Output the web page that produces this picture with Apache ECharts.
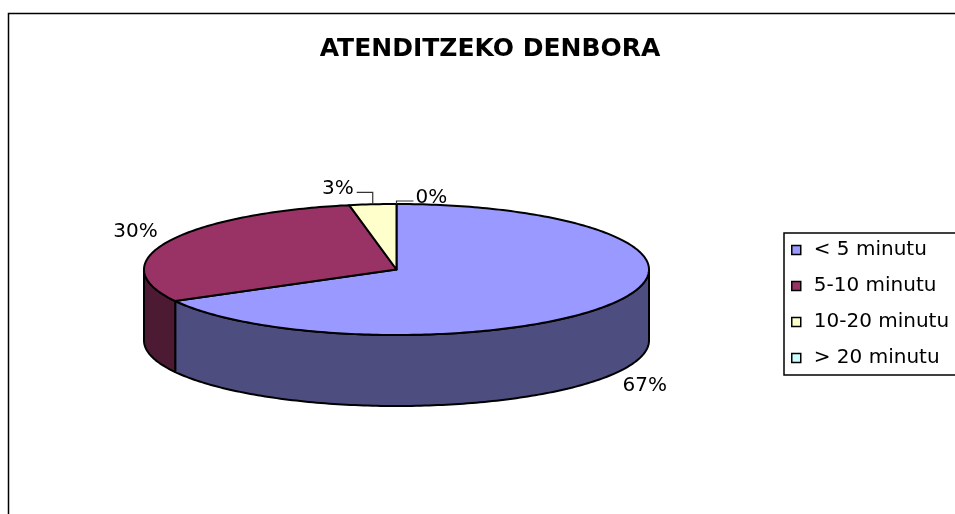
<!DOCTYPE html>
<html>
<head>
<meta charset="utf-8">
<title>ATENDITZEKO DENBORA</title>
<script src="https://cdn.jsdelivr.net/npm/echarts@6/dist/echarts.min.js"></script>
<style>
  html, body { margin: 0; padding: 0; background: #fff; }
  #main { width: 955px; height: 514px; }
</style>
</head>
<body>
<div id="main"></div>
<script>
// datuak
const categories = ['< 5 minutu', '5-10 minutu', '10-20 minutu', '> 20 minutu']
const values = [67, 30, 3, 0]

// koloreak: goiko aurpegia eta alboa
const topColors = ['#9999FF', '#993366', '#FFFFCC', '#CCFFFF']
const sideColors = ['#4D4D80', '#4D1A33', '#80806A', '#6A8080']

// 3D tarta geometria (pixeletan)
const pie = { cx: 396.5, cy: 269.5, rx: 252.5, ry: 65.5, depth: 71 }
// etiketa txikiak lerro gidariarekin: [dx, dy] ertzetik
const leaders = [null, null, [-16, -12], [17, -3]]

const total = values.reduce((a, b) => a + b, 0)

function pt (deg, dy) {
  const r = deg * Math.PI / 180
  return [pie.cx + pie.rx * Math.sin(r), pie.cy - pie.ry * Math.cos(r) + (dy || 0)]
}

function arc (a0, a1, dy) {
  const pts = []
  const n = Math.max(2, Math.ceil(a1 - a0))
  for (let i = 0; i <= n; i++) pts.push(pt(a0 + (a1 - a0) * i / n, dy))
  return pts
}

function startAngle (idx) {
  let s = 0
  for (let i = 0; i < idx; i++) s += values[i]
  return s / total * 360
}

function renderSlice (idx) {
  return function (params, api) {
    const start = startAngle(idx)
    const end = start + values[idx] / total * 360
    const children = []

    if (end > start) {
      // alboa (aurreko erdia bakarrik ikusten da)
      const s0 = Math.max(start, 90)
      const s1 = Math.min(end, 270)
      if (s1 > s0) {
        children.push({
          type: 'polygon',
          z2: 1,
          shape: { points: arc(s0, s1, 0).concat(arc(s0, s1, pie.depth).reverse()) },
          style: { fill: sideColors[idx], stroke: '#000', lineWidth: 2, lineJoin: 'round' }
        })
      }
      // goiko aurpegia
      children.push({
        type: 'polygon',
        z2: 5,
        shape: { points: [[pie.cx, pie.cy]].concat(arc(start, end, 0)) },
        style: { fill: topColors[idx], stroke: '#000', lineWidth: 2, lineJoin: 'round' }
      })
    }

    // ehunekoa
    const pct = Math.round(values[idx] / total * 100) + '%'
    const mid = (start + end) / 2
    const rad = mid * Math.PI / 180
    const font = { fontFamily: 'DejaVu Sans', fontSize: 20, fill: '#000' }
    if (!leaders[idx]) {
      const c = Math.cos(rad)
      children.push({
        type: 'text',
        z2: 10,
        style: Object.assign({
          text: pct,
          x: pie.cx + (pie.rx + 36) * Math.sin(rad),
          y: pie.cy - (pie.ry + 24) * c + (c < 0 ? pie.depth : 0),
          align: 'center',
          verticalAlign: 'middle'
        }, font)
      })
    } else {
      const [dx, dy] = leaders[idx]
      const e = pt(mid, 0)
      children.push({
        type: 'polyline',
        z2: 10,
        shape: { points: [e, [e[0], e[1] + dy], [e[0] + dx, e[1] + dy]] },
        style: { stroke: '#333', lineWidth: 1.2, fill: null }
      })
      children.push({
        type: 'text',
        z2: 10,
        style: Object.assign({
          text: pct,
          x: e[0] + dx + (dx < 0 ? -3 : 2),
          y: e[1] + dy - 3,
          align: dx < 0 ? 'right' : 'left',
          verticalAlign: 'middle'
        }, font)
      })
    }
    return { type: 'group', children }
  }
}

const chart = echarts.init(document.getElementById('main'))

const option = {
  animation: false,
  backgroundColor: '#fff',
  title: {
    text: 'ATENDITZEKO DENBORA',
    left: 490,
    top: 37,
    textAlign: 'center',
    padding: 0,
    textStyle: { fontFamily: 'DejaVu Sans', fontWeight: 'bold', fontSize: 25, color: '#000' }
  },
  legend: {
    orient: 'vertical',
    left: 784,
    top: 233,
    padding: [7, 30, 7, 7],
    itemWidth: 9,
    itemHeight: 9,
    itemGap: 16,
    icon: 'rect',
    selectedMode: false,
    borderColor: '#000',
    borderWidth: 1.5,
    itemStyle: { borderColor: '#000', borderWidth: 1.5 },
    textStyle: { fontFamily: 'DejaVu Sans', fontSize: 20, lineHeight: 20, color: '#000', padding: [0, 0, 0, 8] },
    data: categories
  },
  graphic: [{
    type: 'rect',
    shape: { x: 8.5, y: 13.5, width: 1000, height: 600 },
    style: { fill: null, stroke: '#000', lineWidth: 1.5 },
    silent: true
  }],
  series: categories.map((name, i) => ({
    type: 'custom',
    name: name,
    coordinateSystem: 'none',
    itemStyle: { color: topColors[i] },
    data: [values[i]],
    renderItem: renderSlice(i)
  }))
}

chart.setOption(option)
</script>
</body>
</html>
